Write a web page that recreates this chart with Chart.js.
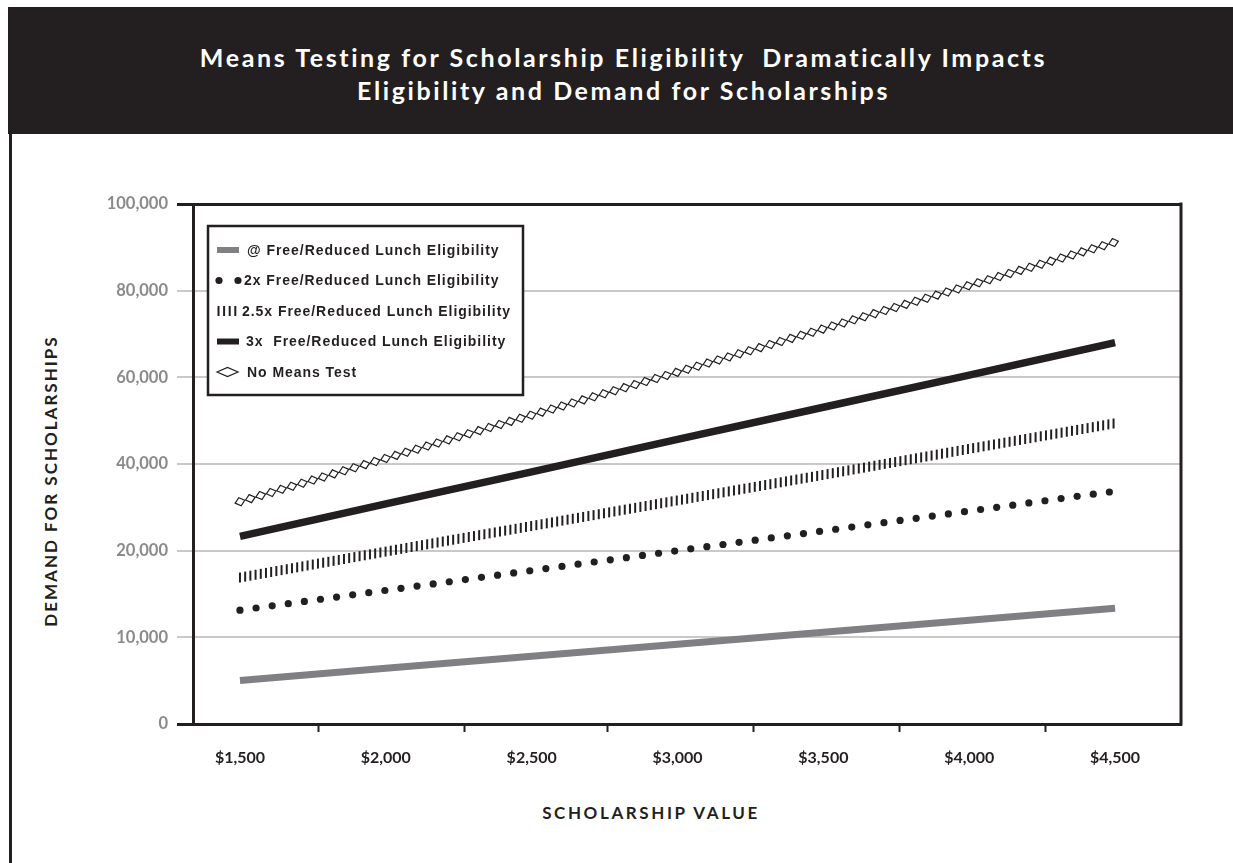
<!DOCTYPE html>
<html>
<head>
<meta charset="utf-8">
<script src="https://cdn.jsdelivr.net/npm/chart.js@4.4.1/dist/chart.umd.min.js"></script>
<style>
  html, body { margin: 0; padding: 0; background: #fff; }
  body { position: relative; width: 1233px; height: 863px; overflow: hidden; font-family: Lato, "Open Sans", sans-serif; }
  #band { position: absolute; left: 8px; top: 7px; width: 1225px; height: 127px; background: #231f20; }
  #band h1 { position: absolute; left: 6px; right: 0; top: 34px; margin: 0; text-align: center; color: #fff;
             font: 700 25px Lato, sans-serif; letter-spacing: 2.6px; line-height: 33px; }
  #frameLeft { position: absolute; left: 9px; top: 130px; width: 3px; height: 740px; background: #231f20; }
  #ytitle { position: absolute; left: 50px; top: 481px; transform: translate(-50%, -50%) rotate(-90deg);
            font: 700 17px Lato, sans-serif; letter-spacing: 2px; color: #231f20; white-space: nowrap; }
  #xtitle { position: absolute; left: 651px; top: 812px; transform: translate(-50%, -50%);
            font: 700 17px Lato, sans-serif; letter-spacing: 2.6px; color: #231f20; white-space: nowrap; }
  #chart { position: absolute; left: 0; top: 0; }
</style>
</head>
<body>
<div id="band"><h1>Means Testing for Scholarship Eligibility&nbsp; Dramatically Impacts<br>Eligibility and Demand for Scholarships</h1></div>
<div id="frameLeft"></div>
<div id="ytitle">DEMAND FOR SCHOLARSHIPS</div>
<div id="xtitle">SCHOLARSHIP VALUE</div>
<canvas id="chart" width="1233" height="863"></canvas>
<script>
// Scholarship values (x) and their axis labels
const scholarshipValues = [1500, 2000, 2500, 3000, 3500, 4000, 4500];
const xTickLabels = ['$1,500', '$2,000', '$2,500', '$3,000', '$3,500', '$4,000', '$4,500'];
// Small divider ticks that sit between the scholarship labels
const xDividers = [1770, 2270, 2760, 3260, 3760, 4260];

// The demand axis is drawn with evenly spaced gridlines at these values
const yTickValues = [0, 10000, 20000, 40000, 60000, 80000, 100000];
const yTickLabels = ['0', '10,000', '20,000', '40,000', '60,000', '80,000', '100,000'];

const seriesNames = [
  '@ Free/Reduced Lunch Eligibility',
  '2x Free/Reduced Lunch Eligibility',
  '2.5x Free/Reduced Lunch Eligibility',
  '3x  Free/Reduced Lunch Eligibility',
  'No Means Test'
];
// Demand for scholarships at each scholarship value
const freeReduced1x  = [5030, 6420, 7810, 9190, 10580, 11970, 13360];
const freeReduced2x  = [13130, 15420, 17710, 20000, 24560, 29140, 33720];
const freeReduced25x = [16900, 19900, 25700, 31600, 37500, 43500, 49400];
const freeReduced3x  = [23300, 30800, 38200, 45700, 53100, 60500, 68000];
const noMeansTest    = [31300, 41300, 51300, 61200, 71200, 81200, 91200];

const INK = '#231f20';
const GREY_LINE = '#808084';

// Position of a demand value on the evenly spaced gridline axis
function axisPos(v) {
  for (let i = 0; i < yTickValues.length - 1; i++) {
    const a = yTickValues[i], b = yTickValues[i + 1];
    if (v <= b) return i + (v - a) / (b - a);
  }
  return yTickValues.length - 1;
}
function toPoints(values) {
  return scholarshipValues.map((x, i) => ({ x: x, y: axisPos(values[i]) }));
}

// Line marks (dots, hatch ticks, diamonds) stamped along a dataset's line
function drawStamp(ctx, kind, x, y, ang) {
  if (kind === 'dot') {
    ctx.beginPath();
    ctx.arc(x, y, 3.6, 0, Math.PI * 2);
    ctx.fillStyle = INK;
    ctx.fill();
  } else if (kind === 'tick') {
    ctx.fillStyle = INK;
    ctx.fillRect(x - 1, y - 5, 2, 10);
  } else if (kind === 'diamond') {
    ctx.save();
    ctx.translate(x, y);
    ctx.rotate(ang);
    ctx.beginPath();
    ctx.moveTo(-5, 0); ctx.lineTo(0, -4.2); ctx.lineTo(5, 0); ctx.lineTo(0, 4.2); ctx.closePath();
    ctx.fillStyle = '#fff';
    ctx.fill();
    ctx.lineWidth = 1.2;
    ctx.strokeStyle = INK;
    ctx.stroke();
    ctx.restore();
  }
}

const stampPlugin = {
  id: 'stamps',
  afterDatasetsDraw(chart) {
    const ctx = chart.ctx;
    chart.data.datasets.forEach((ds, i) => {
      if (!ds.stamp) return;
      const pts = chart.getDatasetMeta(i).data;
      const xEnd = pts[pts.length - 1].x;
      let seg = 0;
      ctx.save();
      for (let x = pts[0].x; x <= xEnd + 0.5; x += ds.stampStep) {
        while (seg < pts.length - 2 && x > pts[seg + 1].x) seg++;
        const a = pts[seg], b = pts[seg + 1];
        const t = (x - a.x) / (b.x - a.x);
        drawStamp(ctx, ds.stamp, x, a.y + t * (b.y - a.y), Math.atan2(b.y - a.y, b.x - a.x));
      }
      ctx.restore();
    });
  }
};

// Right edge of the plot frame and the boxed legend
const framePlugin = {
  id: 'frameAndLegend',
  afterDraw(chart) {
    const ctx = chart.ctx;
    const area = chart.chartArea;
    ctx.save();
    ctx.strokeStyle = INK;
    ctx.lineWidth = 3;
    ctx.beginPath();
    ctx.moveTo(area.right, area.top - 1.5);
    ctx.lineTo(area.right, area.bottom + 1.5);
    ctx.stroke();

    // legend box
    const bx = area.left + 15, by = area.top + 22, bw = 315, bh = 169;
    ctx.fillStyle = '#fff';
    ctx.fillRect(bx, by, bw, bh);
    ctx.lineWidth = 2.5;
    ctx.strokeRect(bx, by, bw, bh);

    const sx = bx + 9;
    const rows = [24, 54.5, 85, 115.5, 146];
    ctx.font = '700 14px "Liberation Sans", Arial, sans-serif';
    ctx.textBaseline = 'middle';
    ctx.fillStyle = INK;
    if ('letterSpacing' in ctx) ctx.letterSpacing = '0.95px';
    const textX = [sx + 30, sx + 27, sx + 25, sx + 29, sx + 30];
    rows.forEach((dy, k) => {
      const y = by + dy;
      if (k === 0) { ctx.fillStyle = GREY_LINE; ctx.fillRect(sx, y - 3, 22, 6); }
      if (k === 1) { drawStamp(ctx, 'dot', sx + 2, y, 0); drawStamp(ctx, 'dot', sx + 21, y, 0); }
      if (k === 2) { for (let j = 0; j < 4; j++) drawStamp(ctx, 'tick', sx + 1.5 + j * 5.6, y, 0); }
      if (k === 3) { ctx.fillStyle = INK; ctx.fillRect(sx, y - 3, 22, 6); }
      if (k === 4) {
        ctx.beginPath();
        ctx.moveTo(sx, y); ctx.lineTo(sx + 10.5, y - 4.5); ctx.lineTo(sx + 21, y); ctx.lineTo(sx + 10.5, y + 4.5); ctx.closePath();
        ctx.lineWidth = 1.2; ctx.strokeStyle = INK; ctx.stroke();
      }
      ctx.fillStyle = INK;
      ctx.fillText(seriesNames[k], textX[k], y + 1);
    });
    ctx.restore();
  }
};

new Chart(document.getElementById('chart'), {
  type: 'line',
  data: {
    datasets: [
      { label: seriesNames[0], data: toPoints(freeReduced1x), borderColor: GREY_LINE, borderWidth: 7,
        borderCapStyle: 'butt', pointRadius: 0 },
      { label: seriesNames[1], data: toPoints(freeReduced2x), showLine: false, pointRadius: 0,
        stamp: 'dot', stampStep: 16.1 },
      { label: seriesNames[2], data: toPoints(freeReduced25x), showLine: false, pointRadius: 0,
        stamp: 'tick', stampStep: 5.2 },
      { label: seriesNames[3], data: toPoints(freeReduced3x), borderColor: INK, borderWidth: 7.5,
        borderCapStyle: 'butt', pointRadius: 0 },
      { label: seriesNames[4], data: toPoints(noMeansTest), showLine: false, pointRadius: 0,
        stamp: 'diamond', stampStep: 10.4 }
    ]
  },
  options: {
    responsive: false,
    animation: false,
    layout: { padding: { left: 100, top: 204, right: 52, bottom: 79 } },
    plugins: { legend: { display: false }, tooltip: { enabled: false } },
    scales: {
      x: {
        type: 'linear', min: 1339, max: 4726,
        afterBuildTicks: s => {
          s.ticks = scholarshipValues.concat(xDividers).sort((a, b) => a - b).map(v => ({ value: v }));
        },
        afterFit: s => { s.height = 60; },
        ticks: {
          autoSkip: false, maxRotation: 0, padding: 16, color: INK,
          font: { family: 'Lato', weight: 'bold', size: 16 },
          callback: v => { const i = scholarshipValues.indexOf(v); return i >= 0 ? xTickLabels[i] : ''; }
        },
        grid: {
          drawOnChartArea: false, tickLength: 8, tickWidth: 2,
          tickColor: c => (c.tick && xDividers.includes(c.tick.value)) ? INK : 'rgba(0,0,0,0)'
        },
        border: { color: INK, width: 3 }
      },
      y: {
        type: 'linear', min: 0, max: yTickValues.length - 1,
        afterBuildTicks: s => { s.ticks = yTickLabels.map((_, i) => ({ value: i })); },
        afterFit: s => { s.width = 93; },
        ticks: {
          padding: 9, color: '#8a8a8d',
          font: { family: 'Lato', weight: 'bold', size: 16.5 },
          callback: v => yTickLabels[v]
        },
        grid: {
          tickLength: 16,
          color: c => (c.tick && (c.tick.value === 0 || c.tick.value === yTickLabels.length - 1)) ? INK : '#c9c9c9',
          lineWidth: c => (c.tick && (c.tick.value === 0 || c.tick.value === yTickLabels.length - 1)) ? 3 : 2
        },
        border: { color: INK, width: 3 }
      }
    }
  },
  plugins: [stampPlugin, framePlugin]
});
</script>
</body>
</html>
